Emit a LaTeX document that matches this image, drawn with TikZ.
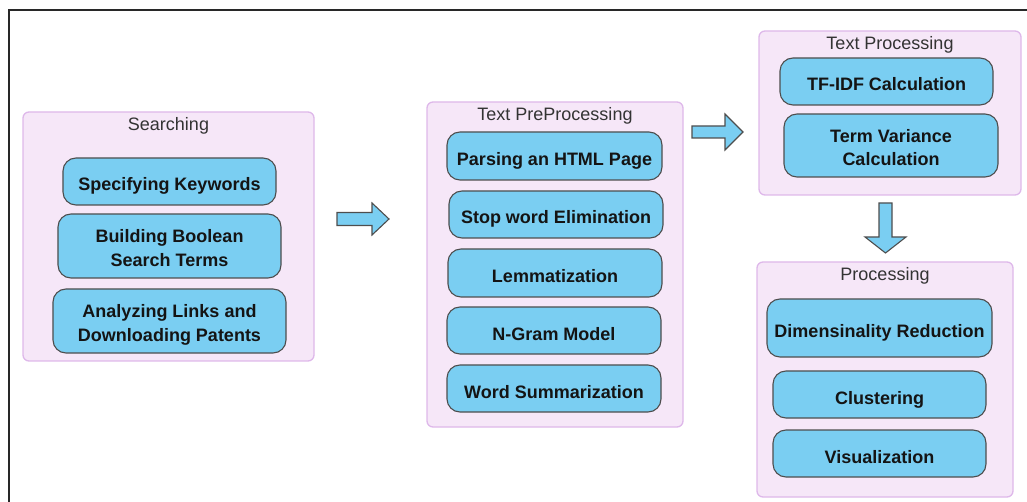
\documentclass[tikz,border=0pt]{standalone}
\usepackage{fontspec}
\setmainfont{Liberation Sans}
\usetikzlibrary{fit}

\definecolor{stepfill}{RGB}{122,206,242}
\definecolor{stepline}{RGB}{78,78,78}
\definecolor{groupfill}{RGB}{246,231,248}
\definecolor{groupline}{RGB}{222,184,234}
\definecolor{titlegray}{RGB}{51,51,51}
\definecolor{framegray}{RGB}{40,40,40}

% two centred lines whose reference point is the baseline of the last line
\newcommand\twolines[2]{\begin{tabular}[b]{@{}c@{}}#1\\#2\end{tabular}}

% block arrow: start, angle, length, half shaft width, head length, half head width
\newcommand\flowarrow[6]{%
  \draw[blockarrow, shift={#1}, rotate=#2]
    (0,-#4) -- ({#3-#5},-#4) -- ({#3-#5},-#6) -- (#3,0)
    -- ({#3-#5},#6) -- ({#3-#5},#4) -- (0,#4) -- cycle;}

\tikzset{
  group/.style={draw=groupline, fill=groupfill, line width=1.3bp,
    rounded corners=6bp, inner sep=0pt},
  task/.style={draw=stepline, fill=stepfill, line width=1.1bp,
    rounded corners=13bp, inner sep=0pt, text=black!92,
    font=\bfseries\fontsize{18bp}{23.3bp}\selectfont,
    text height=19bp, text depth=0bp},
  tasktwo/.style={task, text height=40.5bp},
  boxsize/.style 2 args={minimum width=#1bp, minimum height=#2bp},
  grouptitle/.style={anchor=base, inner sep=0pt, text=titlegray,
    font=\fontsize{18bp}{21bp}\selectfont},
  blockarrow/.style={draw=stepline, fill=stepfill, line width=1.1bp,
    line join=miter},
  frameline/.style={draw=framegray, line width=2bp},
}

\begin{document}
\begin{tikzpicture}[x=1bp, y=-1bp]
\useasboundingbox (0,0) rectangle (1027,502);

% page frame (only its top and left sides fall on the page)
\coordinate (frameBL) at (9,510);
\coordinate (frameTL) at (9,10);
\coordinate (frameTR) at (1040,10);
\draw[frameline] (frameBL) -- (frameTL) -- (frameTR);

% --- Searching ---
\node[group, fit={(23,112) (314,361)}] (search) {};
\node[grouptitle] (searchT) at ([yshift=-19bp]search.north) {Searching};
\node[task, boxsize={213}{47}] (kw) at (169.5,181.5) {Specifying Keywords};
\node[tasktwo, boxsize={223}{64}] (bool) at (169.5,246) {\twolines{Building Boolean}{Search Terms}};
\node[tasktwo, boxsize={233}{64}] (links) at (169.5,321) {\twolines{Analyzing Links and}{Downloading Patents}};

% --- Text PreProcessing ---
\node[group, fit={(427,102) (683,427)}] (prep) {};
\node[grouptitle] (prepT) at ([yshift=-19bp]prep.north) {Text PreProcessing};
\node[task, boxsize={215}{48}] (html) at (554.5,156) {Parsing an HTML Page};
\node[task, boxsize={214}{47}] (stop) at (556,214.5) {Stop word Elimination};
\node[task, boxsize={214}{48}] (lemma) at (555,273) {Lemmatization};
\node[task, boxsize={214}{47}] (ngram) at (554,330.5) {N-Gram Model};
\node[task, boxsize={214}{47}] (summ) at (554,388.5) {Word Summarization};

% --- Text Processing ---
\node[group, fit={(759,31) (1021,195)}] (tproc) {};
\node[grouptitle] (tprocT) at ([yshift=-19bp]tproc.north) {Text Processing};
\node[task, boxsize={213}{47}] (tfidf) at (886.5,81.5) {TF-IDF Calculation};
\node[tasktwo, boxsize={214}{63}] (tv) at (891,145.5) {\twolines{Term Variance}{Calculation}};

% --- Processing ---
\node[group, fit={(757,262) (1013,497)}] (proc) {};
\node[grouptitle] (procT) at ([yshift=-19bp]proc.north) {Processing};
\node[task, boxsize={225}{58}] (dim) at (879.5,328) {Dimensinality Reduction};
\node[task, boxsize={213}{47}] (clus) at (879.5,394.5) {Clustering};
\node[task, boxsize={213}{47}] (vis) at (879.5,453.5) {Visualization};

% --- flow arrows between the stages ---
\flowarrow{(337,219)}{0}{52}{6.5}{17}{16}
\flowarrow{(692,132)}{0}{51}{6}{18}{18}
\flowarrow{(885.5,203)}{-90}{50}{6.5}{16}{20.5}
\end{tikzpicture}
\end{document}
